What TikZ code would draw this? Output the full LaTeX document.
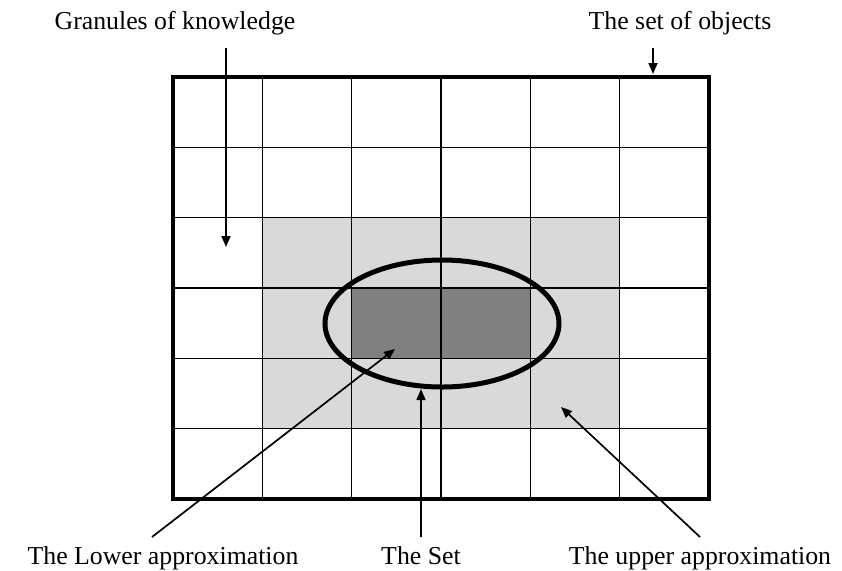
\documentclass[tikz,border=0pt]{standalone}
\usepackage{fontspec}
\setmainfont{Liberation Serif}
\usetikzlibrary{arrows.meta}
\begin{document}
\begin{tikzpicture}[x=0.5pt,y=-0.5pt,
    txt/.style={font=\fontsize{12.9}{15}\selectfont, inner sep=0pt, anchor=base},
    pointer/.style={line width=0.85pt, -{Triangle[length=5.5pt,width=4.5pt]}}]
  \useasboundingbox (0,0) rectangle (842,570);

  % Approximation regions
  \fill[black!15] (262.3,217.7) rectangle (619.7,428.7);
  \fill[black!50] (351.7,288) rectangle (530.3,358.3);

  % Granules (grid)
  \foreach \i in {1,...,5} {
    \draw[line width=0.75pt] (173+\i*89.33,77) -- (173+\i*89.33,499);
    \draw[line width=0.75pt] (173,77+\i*70.33) -- (709,77+\i*70.33);
  }
  \draw[line width=2pt] (173,77) rectangle (709,499);

  % The set
  \draw[line width=2.5pt] (442,323.5) ellipse [x radius=117, y radius=63.5];

  % Labels
  \node[txt] (granules) at (175,29) {Granules of knowledge};
  \node[txt] (objects) at (680,29) {The set of objects};
  \node[txt] (lower) at (163,564) {The Lower approximation};
  \node[txt] (theset) at (421,564) {The Set};
  \node[txt] (upper) at (700,564) {The upper approximation};

  % Pointers
  \coordinate (granules-from) at (226,48);
  \coordinate (granules-to) at (226,247);
  \coordinate (objects-from) at (653,48);
  \coordinate (objects-to) at (653,74);
  \coordinate (lower-from) at (152,537);
  \coordinate (lower-to) at (395,349);
  \coordinate (theset-from) at (421,537);
  \coordinate (theset-to) at (421,389);
  \coordinate (upper-from) at (700,537);
  \coordinate (upper-to) at (561,407);

  \draw[pointer] (granules-from) -- (granules-to);
  \draw[pointer] (objects-from) -- (objects-to);
  \draw[pointer] (lower-from) -- (lower-to);
  \draw[pointer] (theset-from) -- (theset-to);
  \draw[pointer] (upper-from) -- (upper-to);
\end{tikzpicture}
\end{document}
